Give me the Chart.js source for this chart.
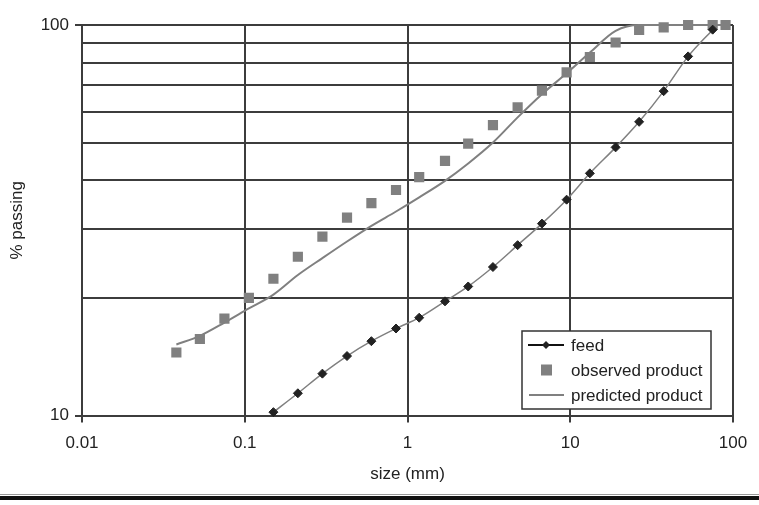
<!DOCTYPE html>
<html>
<head>
<meta charset="UTF-8">
<title>% passing vs size</title>
<script src="https://cdn.jsdelivr.net/npm/chart.js"></script>
<style>
  html, body { margin: 0; padding: 0; background: #fff; }
  #wrap { width: 759px; height: 505px; position: relative; }
</style>
</head>
<body>
<div id="wrap"><canvas id="chart"></canvas></div>
<script>
// sieve sizes (mm)
const feedSizes = [0.15, 0.212, 0.3, 0.425, 0.6, 0.85, 1.18, 1.7, 2.36, 3.35, 4.75, 6.7, 9.5, 13.2, 19, 26.5, 37.5, 53, 75];
const feedPassing = [10.2, 11.4, 12.8, 14.2, 15.5, 16.7, 17.8, 19.6, 21.4, 24.0, 27.3, 31.0, 35.7, 41.7, 48.6, 56.5, 67.7, 83.1, 97.3];

const productSizes = [0.038, 0.053, 0.075, 0.106, 0.15, 0.212, 0.3, 0.425, 0.6, 0.85, 1.18, 1.7, 2.36, 3.35, 4.75, 6.7, 9.5, 13.2, 19, 26.5, 37.5, 53, 75, 90];
const observedPassing = [14.5, 15.7, 17.7, 20.0, 22.4, 25.5, 28.7, 32.1, 35.0, 37.8, 40.8, 44.9, 49.7, 55.4, 61.5, 67.9, 75.6, 82.8, 90.2, 97.2, 98.6, 100, 100, 100];
const predictedPassing = [15.2, 16.0, 17.3, 18.8, 20.4, 22.9, 25.3, 27.9, 30.6, 33.3, 36.2, 39.9, 44.2, 50.0, 58.0, 66.5, 75.2, 85.0, 96.6, 100, 100, 100, 100, 100];

const xTicks = [0.01, 0.1, 1, 10, 100];
const yTicks = [10, 20, 30, 40, 50, 60, 70, 80, 90, 100];
const yLabelled = [10, 100];

const seriesNames = ['feed', 'observed product', 'predicted product'];

const FONT = '"Liberation Sans", Arial, sans-serif';
const GRID = '#3c3c3c';

function pairs(xs, ys) {
  return xs.map((x, i) => ({ x: x, y: ys[i] }));
}

// legend drawn inside the plot, bottom right
const boxLegend = {
  id: 'boxLegend',
  afterDatasetsDraw(chart) {
    const c = chart.ctx;
    const x0 = 522, y0 = 331, w = 189, h = 78;
    c.save();
    c.fillStyle = '#fff';
    c.fillRect(x0, y0, w, h);
    c.strokeStyle = '#333';
    c.lineWidth = 1.5;
    c.strokeRect(x0, y0, w, h);
    c.font = '17px ' + FONT;
    c.textBaseline = 'middle';
    const rows = [y0 + 14, y0 + 39, y0 + 64];
    // feed sample
    c.strokeStyle = '#111';
    c.lineWidth = 2;
    c.beginPath(); c.moveTo(x0 + 6, rows[0]); c.lineTo(x0 + 42, rows[0]); c.stroke();
    c.fillStyle = '#222';
    c.beginPath();
    c.moveTo(x0 + 24, rows[0] - 4); c.lineTo(x0 + 28, rows[0]);
    c.lineTo(x0 + 24, rows[0] + 4); c.lineTo(x0 + 20, rows[0]);
    c.closePath(); c.fill();
    // observed sample
    c.fillStyle = '#808080';
    c.fillRect(x0 + 19, rows[1] - 5.5, 11, 11);
    // predicted sample
    c.strokeStyle = '#808080';
    c.lineWidth = 2;
    c.beginPath(); c.moveTo(x0 + 7, rows[2]); c.lineTo(x0 + 42, rows[2]); c.stroke();
    c.fillStyle = '#222';
    seriesNames.forEach((t, i) => c.fillText(t, x0 + 49, rows[i] + 1));
    c.restore();
  }
};

// heavy rule under the figure
const rule = {
  id: 'rule',
  afterDraw(chart) {
    const c = chart.ctx;
    c.save();
    c.fillStyle = '#111';
    c.fillRect(0, 496, 759, 4);
    c.fillStyle = '#999';
    c.fillRect(0, 494, 759, 1);
    c.restore();
  }
};

new Chart(document.getElementById('chart'), {
  type: 'line',
  data: {
    datasets: [
      {
        label: seriesNames[0],
        data: pairs(feedSizes, feedPassing),
        borderColor: '#808080',
        borderWidth: 1.5,
        pointStyle: 'rectRot',
        pointRadius: 4.5,
        pointBackgroundColor: '#222',
        pointBorderColor: '#222',
        pointBorderWidth: 1,
        cubicInterpolationMode: 'monotone',
        clip: 8,
        order: 1
      },
      {
        label: seriesNames[1],
        data: pairs(productSizes, observedPassing),
        showLine: false,
        pointStyle: 'rect',
        pointRadius: 7.2,
        pointBackgroundColor: '#808080',
        pointBorderColor: '#808080',
        pointBorderWidth: 0,
        clip: 8,
        order: 3
      },
      {
        label: seriesNames[2],
        data: pairs(productSizes, predictedPassing),
        borderColor: '#808080',
        borderWidth: 2,
        pointRadius: 0,
        cubicInterpolationMode: 'monotone',
        clip: 4,
        order: 2
      }
    ]
  },
  options: {
    responsive: true,
    maintainAspectRatio: false,
    animation: false,
    layout: { padding: { left: 0, right: 26, top: 25, bottom: 0 } },
    plugins: {
      legend: { display: false },
      tooltip: { enabled: false }
    },
    scales: {
      x: {
        type: 'logarithmic',
        min: 0.01,
        max: 100,
        afterBuildTicks: s => { s.ticks = xTicks.map(v => ({ value: v })); },
        afterFit: s => { s.height = 89.5; },
        border: { color: GRID, width: 2 },
        grid: { color: GRID, lineWidth: 2, tickLength: 7, tickColor: GRID },
        ticks: {
          color: '#222',
          font: { family: FONT, size: 17 },
          padding: 11,
          maxRotation: 0,
          autoSkip: false,
          callback: v => String(v)
        },
        title: {
          display: true,
          text: 'size (mm)',
          color: '#222',
          font: { family: FONT, size: 17 },
          padding: { top: 0, bottom: 20 }
        }
      },
      y: {
        type: 'logarithmic',
        min: 10,
        max: 100,
        afterBuildTicks: s => { s.ticks = yTicks.map(v => ({ value: v })); },
        afterFit: s => { s.width = 82; },
        border: { color: GRID, width: 2 },
        grid: {
          color: GRID,
          lineWidth: 2,
          tickLength: 7,
          tickColor: c => (c.tick && yLabelled.includes(c.tick.value)) ? GRID : 'rgba(0,0,0,0)'
        },
        ticks: {
          color: '#222',
          font: { family: FONT, size: 17 },
          padding: 6,
          autoSkip: false,
          callback: v => yLabelled.includes(v) ? String(v) : ''
        },
        title: {
          display: true,
          text: '% passing',
          color: '#222',
          font: { family: FONT, size: 17 },
          padding: { top: 7, bottom: 0 }
        }
      }
    }
  },
  plugins: [boxLegend, rule]
});
</script>
</body>
</html>
